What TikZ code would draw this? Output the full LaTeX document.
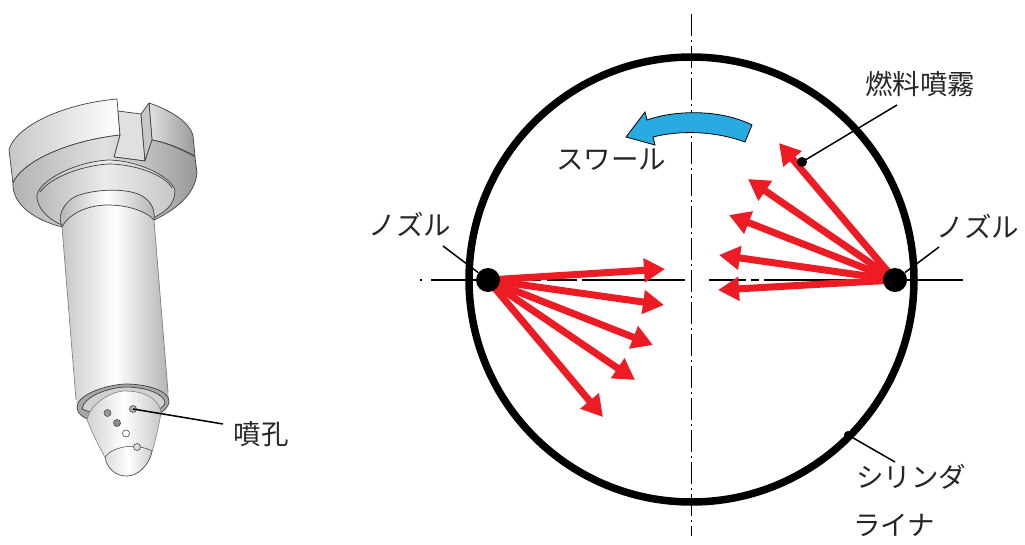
\documentclass[tikz,border=0pt]{standalone}
\usepackage{fontspec}
\newfontfamily\jp{Noto Sans CJK JP}
\usetikzlibrary{arrows.meta}
\definecolor{sprayred}{HTML}{ED1C24}
\definecolor{swirlblue}{HTML}{29ABE2}
\tikzset{
 jptext/.style={font=\jp\fontsize{27.5}{27.5}\selectfont,text=black!85,inner sep=0pt},
 edge3d/.style={draw=black!75,line width=0.7pt,line join=round},
 flat/.style={edge3d,fill=black!12},
 spray/.style={draw=sprayred,line width=7pt,-{Triangle[length=21pt,width=23pt]},shorten <=2pt},
 leader/.style={draw=black,line width=1.5pt},
 centerv/.style={draw=black,line width=1.8pt,dash pattern=on 22pt off 4pt on 2pt off 4pt},
 centerh/.style={draw=black,line width=1.5pt},
 hole/.style={circle,draw=black!70,line width=0.6pt,fill=black!45,minimum size=7pt,inner sep=0pt},
 dotn/.style={circle,fill=black,inner sep=0pt},
}
\begin{document}
\begin{tikzpicture}[x=1pt,y=-1pt]
\useasboundingbox (0,0) rectangle (1025,544);
% ---- injector body
% head, upper band
\path[edge3d,left color=black!22,right color=white] (9,150) .. controls (14,128) and (60,104) .. (117,99) -- (120,135) .. controls (60,142) and (20,165) .. (13,183) -- cycle;
\path[edge3d,left color=black!12,right color=black!40] (149,103) .. controls (170,110) and (190,122) .. (193,136) -- (195,156) .. controls (180,148) and (165,142) .. (152,140) -- cycle;
% slot
\path[flat] (118,111) -- (141,114) -- (145,161) -- (114,157) -- (120,135) -- cycle;
\path[edge3d,fill=black!22] (141,114) -- (149,103) -- (152,140) -- (145,161) -- cycle;
% ledge
\path[edge3d,left color=black!30,right color=black!40,middle color=black!12]
 (13,183) .. controls (20,165) and (60,142) .. (120,135) -- (114,157) -- (145,161) -- (152,140) .. controls (170,143) and (192,155) .. (195,157) -- (197,173)
 .. controls (195,195) and (175,210) .. (154,220) -- (62,227) .. controls (35,220) and (12,205) .. (13,183) -- cycle;
% groove rings
\path[edge3d,left color=black!28,right color=black!22,middle color=black!8]
 (62,225) .. controls (45,218) and (36,205) .. (37,195) .. controls (40,180) and (75,162) .. (108,160) .. controls (135,160) and (170,175) .. (175,190) .. controls (175,205) and (165,212) .. (153,218) -- cycle;
\draw[edge3d] (40,192) .. controls (50,178) and (80,166) .. (108,164) .. controls (135,164) and (165,175) .. (172,188);
% neck
\path[edge3d,left color=black!30,right color=black!30,middle color=white]
 (62,226) .. controls (58,218) and (61,208) .. (70,200) .. controls (80,190) and (130,185) .. (145,198) .. controls (153,204) and (155,212) .. (154,220) -- cycle;
% shaft
\path[left color=black!22,right color=black!30,middle color=white] (62,227) .. controls (70,212) and (90,205) .. (108,205) .. controls (125,205) and (145,210) .. (154,220) -- (169,402) -- (77,408) -- cycle;
\draw[edge3d] (62,227) .. controls (70,212) and (90,205) .. (108,205) .. controls (125,205) and (145,210) .. (154,220);
\draw[edge3d,draw=black!50] (62,227) -- (76,400);
\draw[edge3d,draw=black!50] (154,220) -- (168,392);
% collar
\path[edge3d,fill=black!35] (77,408) .. controls (76,395) and (105,385) .. (125,384) .. controls (150,384) and (170,392) .. (169,402) .. controls (168,412) and (150,420) .. (125,424) .. controls (100,424) and (78,420) .. (77,408) -- cycle;
\path[edge3d,fill=black!18] (82,409) .. controls (83,398) and (105,388) .. (125,387) .. controls (148,387) and (165,395) .. (165,403) .. controls (162,414) and (120,425) .. (82,409) -- cycle;
% tip
\path[edge3d,draw=black!45,left color=black!18,right color=black!22,middle color=white]
 (87,420) .. controls (90,403) and (112,391) .. (125,391) .. controls (142,391) and (159,397) .. (161,413)
 .. controls (158,430) and (155,442) .. (152,452) .. controls (149,466) and (137,476) .. (127,476) .. controls (115,476) and (107,468) .. (105,457) .. controls (98,445) and (92,432) .. (87,420) -- cycle;
\path[edge3d,line width=0.5pt,left color=black!14,right color=black!20,middle color=white] (105,457) .. controls (112,447) and (135,442) .. (152,451) .. controls (149,466) and (137,476) .. (127,476) .. controls (115,476) and (107,468) .. (105,457) -- cycle;
\node[hole,fill=black!40] (h1) at (107.5,413) {};
\node[hole,fill=black!45] (h2) at (117,423) {};
\node[hole,fill=white] (h3) at (126,433.5) {};
\node[hole,fill=white!85!black] (h4) at (137,447) {};
\node[hole,fill=black!30] (h5) at (133,409) {};
\node[jptext] (funko) at (261,434) {噴孔};
\coordinate (funkoend) at (223,424);
\draw[leader] (h5.center) -- (funkoend);
% ---- cylinder
\node[circle,draw=black,line width=7.5pt,minimum size=445pt,inner sep=0pt,outer sep=0pt] (liner) at (691.5,279.5) {};
\coordinate (vtop) at (691.5,14);
\coordinate (vbot) at (691.5,536);
\draw[centerv] (vtop) -- (vbot);
\coordinate (hl0) at (420,280); \coordinate (hl1) at (685,280);
\coordinate (hr0) at (709,280); \coordinate (hr1) at (963,280);
\draw[centerh,dash pattern=on 2pt off 9pt on 110pt off 6pt on 30pt off 5pt on 108pt] (hl0) -- (hl1);
\draw[centerh,dash pattern=on 37pt off 5pt on 8pt off 5pt on 199pt] (hr0) -- (hr1);
% swirl
\path[draw=black,line width=0.8pt,fill=swirlblue] (626,137) -- (645,112) -- (647,120) .. controls (675,110) and (720,109) .. (752,125) -- (745,142) .. controls (715,131) and (680,130) .. (653,137) -- (655,145) -- cycle;
\node[jptext] (swirl) at (611,160) {スワール};
% nozzles
\coordinate (ln) at (488,280);
\coordinate (rn) at (895,280);
\foreach \t in {(665,269),(664,305),(653,345),(635,380),(603,417)}{\draw[spray] (ln) -- \t;}
\foreach \t in {(779,143),(748,179),(729,215),(719,255),(718,290)}{\draw[spray] (rn) -- \t;}
\node[dotn,minimum size=24pt] (lnd) at (ln) {};
\node[dotn,minimum size=24pt] (rnd) at (rn) {};
\coordinate (lnl) at (443,246);
\coordinate (rnl) at (939,247);
\draw[leader] (lnd) -- (lnl);
\draw[leader] (rnd) -- (rnl);
\node[jptext] (nl) at (410,224) {ノズル};
\node[jptext] (nr) at (978,226) {ノズル};
% spray label
\node[dotn,minimum size=10pt] (spd) at (802,162) {};
\coordinate (spe) at (897,105);
\draw[leader] (spd.center) -- (spe);
\node[jptext] (spl) at (920,84) {燃料噴霧};
% liner label
\node[dotn,minimum size=8pt] (lid) at (848,435) {};
\coordinate (lie) at (895,462);
\draw[leader] (lid.center) -- (lie);
\node[jptext] (li1) at (911,477) {シリンダ};
\node[jptext] (li2) at (894,525) {ライナ};
\end{tikzpicture}
\end{document}
